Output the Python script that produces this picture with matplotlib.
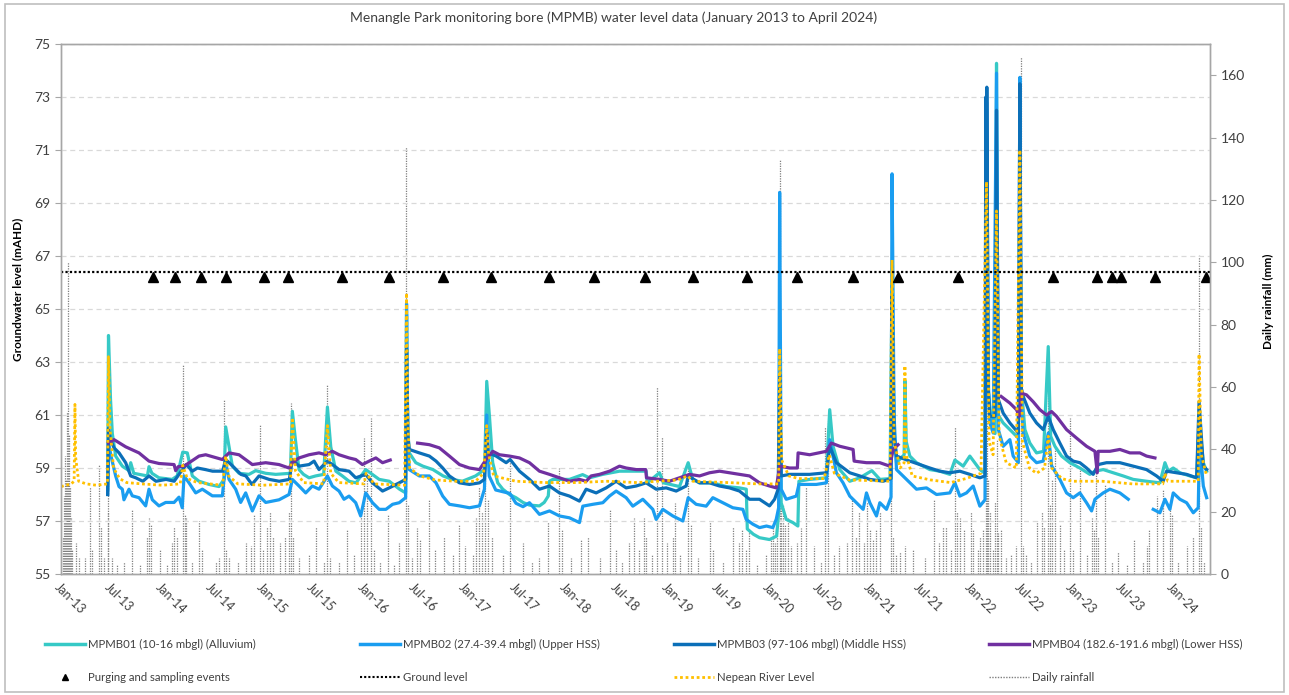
import numpy as np
import pandas as pd
import matplotlib
matplotlib.use("Agg")
import matplotlib.pyplot as plt
import matplotlib.dates as mdates
from matplotlib.lines import Line2D
from matplotlib.patches import Rectangle

plt.rcParams['font.family'] = ['Lato', 'DejaVu Sans']

# ---------------- data (time in decimal years) ----------------
title = "Menangle Park monitoring bore (MPMB) water level data (January 2013 to April 2024)"

mpmb01_t = [2013.462, 2013.470, 2013.490, 2013.508, 2013.541, 2013.607, 2013.673, 2013.690, 2013.720, 2013.772,
            2013.855, 2013.871, 2013.900, 2013.970, 2014.100, 2014.150, 2014.205, 2014.250, 2014.300, 2014.366,
            2014.465, 2014.564, 2014.614, 2014.630, 2014.663, 2014.696, 2014.762, 2014.861, 2014.927, 2015.026,
            2015.125, 2015.270, 2015.290, 2015.320, 2015.356, 2015.400, 2015.455, 2015.520, 2015.600, 2015.637,
            2015.670, 2015.720, 2015.785, 2015.851, 2015.920, 2016.016, 2016.080, 2016.149, 2016.248, 2016.350,
            2016.410, 2016.419, 2016.430, 2016.446, 2016.510, 2016.580, 2016.680, 2016.780, 2016.870, 2016.970,
            2017.100, 2017.190, 2017.211, 2017.238, 2017.270, 2017.320, 2017.370, 2017.436, 2017.500, 2017.570,
            2017.634, 2017.733, 2017.780, 2017.820, 2017.832, 2017.865, 2018.030, 2018.160, 2018.228, 2018.360,
            2018.525, 2018.624, 2018.789, 2018.800, 2018.921, 2018.960, 2019.119, 2019.205, 2019.250, 2019.317,
            2019.450, 2019.581, 2019.713, 2019.780, 2019.790, 2019.850, 2019.911, 2020.010, 2020.080, 2020.105,
            2020.112, 2020.125, 2020.175, 2020.241, 2020.290, 2020.300, 2020.406, 2020.570, 2020.604, 2020.637,
            2020.703, 2020.802, 2020.901, 2021.020, 2021.100, 2021.200, 2021.220, 2021.240, 2021.264, 2021.340,
            2021.347, 2021.360, 2021.396, 2021.462, 2021.594, 2021.693, 2021.792, 2021.842, 2021.924, 2021.990,
            2022.089, 2022.140, 2022.155, 2022.170, 2022.200, 2022.240, 2022.254, 2022.270, 2022.320, 2022.386,
            2022.470, 2022.485, 2022.500, 2022.535, 2022.584, 2022.650, 2022.720, 2022.766, 2022.790, 2022.832,
            2022.898, 2022.980, 2023.079, 2023.178, 2023.228, 2023.310, 2023.409, 2023.508, 2023.607, 2023.739,
            2023.871, 2023.921, 2023.954, 2024.003, 2024.069, 2024.168, 2024.234, 2024.258, 2024.300, 2024.333]
mpmb01_v = [58.2, 64.0, 61.6, 60.3, 59.45, 59.07, 58.9, 59.2, 58.8, 58.76,
            58.7, 59.05, 58.8, 58.63, 58.57, 58.7, 59.6, 59.57, 58.7, 58.5,
            58.38, 58.3, 58.57, 60.55, 59.8, 59.07, 58.8, 58.76, 58.9, 58.8,
            58.76, 58.8, 61.14, 60.07, 58.94, 58.76, 58.63, 58.7, 58.76, 61.3,
            59.8, 58.88, 58.7, 58.5, 58.44, 58.94, 58.76, 58.57, 58.5, 58.2,
            58.06, 64.8, 60.5, 59.57, 59.2, 59.07, 58.94, 58.7, 58.57, 58.5,
            58.7, 58.94, 62.27, 60.95, 59.2, 58.44, 58.2, 58.0, 57.88, 57.7,
            57.6, 57.57, 57.7, 57.94, 58.5, 58.57, 58.57, 58.75, 58.63, 58.76,
            58.88, 58.88, 58.88, 58.44, 58.82, 58.44, 58.3, 59.2, 58.57, 58.44,
            58.44, 58.3, 58.25, 58.2, 56.7, 56.5, 56.37, 56.3, 56.43, 57.5,
            62.0, 57.69, 57.06, 56.94, 56.81, 58.5, 58.57, 58.63, 61.2, 59.82,
            58.94, 58.5, 58.63, 58.9, 58.57, 58.6, 66.0, 60.5, 59.2, 59.5,
            62.3, 60.0, 59.45, 59.2, 58.94, 58.88, 58.76, 59.3, 59.07, 59.45,
            58.94, 58.8, 69.5, 62.0, 60.8, 60.3, 74.27, 61.0, 60.7, 60.45,
            60.13, 70.0, 62.0, 60.45, 59.94, 59.57, 59.63, 63.58, 60.2, 59.82,
            59.45, 59.2, 59.0, 58.76, 58.88, 58.94, 58.82, 58.7, 58.57, 58.5,
            58.44, 59.2, 58.88, 59.0, 58.82, 58.7, 58.63, 60.83, 59.2, 58.88]

mpmb02_t = [2013.462, 2013.470, 2013.492, 2013.541, 2013.574, 2013.607, 2013.623, 2013.673, 2013.706, 2013.772,
            2013.838, 2013.871, 2013.904, 2013.970, 2014.036, 2014.119, 2014.168, 2014.200, 2014.218, 2014.267,
            2014.333, 2014.399, 2014.498, 2014.597, 2014.630, 2014.663, 2014.729, 2014.778, 2014.828, 2014.894,
            2014.960, 2015.026, 2015.158, 2015.257, 2015.290, 2015.356, 2015.422, 2015.488, 2015.554, 2015.637,
            2015.686, 2015.752, 2015.801, 2015.851, 2015.917, 2015.966, 2016.016, 2016.083, 2016.149, 2016.215,
            2016.281, 2016.347, 2016.410, 2016.419, 2016.432, 2016.446, 2016.545, 2016.644, 2016.710, 2016.776,
            2016.842, 2016.941, 2017.040, 2017.139, 2017.188, 2017.211, 2017.235, 2017.300, 2017.440, 2017.500,
            2017.570, 2017.634, 2017.733, 2017.832, 2017.931, 2018.030, 2018.129, 2018.162, 2018.261, 2018.360,
            2018.426, 2018.492, 2018.591, 2018.657, 2018.756, 2018.855, 2018.888, 2018.954, 2019.053, 2019.152,
            2019.205, 2019.284, 2019.383, 2019.449, 2019.548, 2019.647, 2019.746, 2019.779, 2019.845, 2019.911,
            2019.980, 2020.043, 2020.076, 2020.100, 2020.110, 2020.125, 2020.175, 2020.274, 2020.300, 2020.472,
            2020.571, 2020.604, 2020.670, 2020.736, 2020.802, 2020.868, 2020.934, 2020.967, 2021.000, 2021.066,
            2021.099, 2021.165, 2021.210, 2021.220, 2021.240, 2021.264, 2021.363, 2021.462, 2021.561, 2021.660,
            2021.792, 2021.842, 2021.891, 2021.957, 2022.023, 2022.089, 2022.140, 2022.155, 2022.175, 2022.188,
            2022.221, 2022.254, 2022.272, 2022.320, 2022.386, 2022.419, 2022.470, 2022.485, 2022.500, 2022.518,
            2022.584, 2022.650, 2022.716, 2022.766, 2022.800, 2022.881, 2022.947, 2023.013, 2023.079, 2023.145,
            2023.195, 2023.228, 2023.310, 2023.376, 2023.475, 2023.558, 2023.680, 2023.805, 2023.871, 2023.921,
            2023.970, 2024.003, 2024.069, 2024.135, 2024.201, 2024.250, 2024.262, 2024.300, 2024.333]
mpmb02_v = [58.0, 60.0, 59.5, 58.7, 58.3, 58.2, 57.8, 58.2, 57.95, 57.88,
            57.57, 58.2, 57.8, 57.57, 57.7, 57.7, 57.9, 57.5, 58.7, 58.44,
            58.06, 58.2, 57.95, 57.95, 59.2, 58.57, 58.2, 57.7, 58.06, 57.38,
            57.95, 57.7, 57.8, 58.0, 58.57, 58.32, 58.06, 58.32, 58.2, 58.7,
            58.32, 58.13, 57.82, 57.94, 57.69, 57.19, 58.06, 57.69, 57.44, 57.44,
            57.63, 57.69, 57.88, 65.2, 60.0, 58.94, 58.7, 58.7, 58.44, 57.94,
            57.63, 57.57, 57.5, 57.57, 58.2, 61.0, 58.7, 58.17, 58.04, 57.67,
            57.54, 57.69, 57.25, 57.38, 57.19, 57.12, 56.94, 57.56, 57.63, 57.69,
            57.94, 58.13, 57.88, 57.56, 57.82, 57.44, 57.06, 57.44, 57.19, 57.0,
            57.88, 57.63, 57.56, 57.88, 57.69, 57.5, 57.44, 57.06, 56.88, 56.75,
            56.81, 56.75, 57.06, 57.5, 69.4, 58.2, 57.82, 57.94, 58.38, 58.38,
            58.44, 60.07, 58.82, 58.44, 57.94, 57.69, 57.44, 58.06, 57.69, 57.19,
            57.69, 57.44, 57.9, 70.1, 61.0, 58.94, 58.57, 58.2, 58.25, 58.0,
            58.06, 58.44, 57.94, 58.06, 58.32, 57.56, 57.8, 72.8, 62.0, 60.7,
            60.32, 73.9, 60.45, 59.82, 60.07, 59.45, 59.2, 73.74, 61.5, 60.32,
            59.45, 59.2, 59.26, 60.32, 59.07, 58.57, 58.06, 57.88, 58.06, 57.69,
            57.38, 57.82, 58.06, 58.2, 58.06, 57.82, np.nan, 57.44, 57.31, 57.82,
            57.44, 58.06, 57.82, 57.69, 57.31, 57.5, 60.0, 58.32, 57.88]

mpmb03_t = [2013.462, 2013.470, 2013.490, 2013.525, 2013.575, 2013.640, 2013.690, 2013.740, 2013.810, 2013.871,
            2013.940, 2014.040, 2014.120, 2014.190, 2014.240, 2014.300, 2014.350, 2014.430, 2014.500, 2014.600,
            2014.630, 2014.700, 2014.780, 2014.830, 2014.890, 2014.960, 2015.060, 2015.160, 2015.260, 2015.290,
            2015.356, 2015.455, 2015.505, 2015.554, 2015.637, 2015.686, 2015.752, 2015.851, 2015.917, 2016.016,
            2016.083, 2016.182, 2016.248, 2016.347, 2016.410, 2016.419, 2016.432, 2016.446, 2016.545, 2016.644,
            2016.710, 2016.776, 2016.842, 2016.941, 2017.040, 2017.139, 2017.188, 2017.211, 2017.225, 2017.304,
            2017.403, 2017.443, 2017.535, 2017.634, 2017.733, 2017.832, 2017.931, 2018.030, 2018.129, 2018.195,
            2018.294, 2018.393, 2018.492, 2018.591, 2018.690, 2018.789, 2018.888, 2018.987, 2019.086, 2019.185,
            2019.205, 2019.317, 2019.416, 2019.515, 2019.614, 2019.713, 2019.812, 2019.911, 2020.010, 2020.060,
            2020.095, 2020.110, 2020.125, 2020.208, 2020.406, 2020.571, 2020.604, 2020.670, 2020.802, 2020.901,
            2021.000, 2021.132, 2021.210, 2021.220, 2021.240, 2021.264, 2021.396, 2021.495, 2021.594, 2021.693,
            2021.792, 2021.891, 2021.990, 2022.089, 2022.140, 2022.148, 2022.152, 2022.158, 2022.172, 2022.188,
            2022.240, 2022.254, 2022.272, 2022.320, 2022.386, 2022.470, 2022.485, 2022.500, 2022.518, 2022.584,
            2022.650, 2022.716, 2022.766, 2022.815, 2022.881, 2022.947, 2023.013, 2023.079, 2023.145, 2023.211,
            2023.261, 2023.343, 2023.475, 2023.607, 2023.739, 2023.838, 2023.904, 2023.937, 2024.036, 2024.135,
            2024.234, 2024.258, 2024.300, 2024.333]
mpmb03_v = [58.0, 60.5, 60.07, 59.76, 59.57, 59.2, 58.7, 58.63, 58.5, 58.7,
            58.5, 58.57, 58.5, 58.88, 59.13, 58.88, 59.0, 58.94, 58.88, 58.88,
            59.32, 59.07, 58.76, 58.7, 58.38, 58.7, 58.57, 58.5, 58.57, 59.32,
            59.07, 59.13, 59.26, 58.94, 59.26, 59.13, 58.94, 58.88, 58.63, 58.76,
            58.44, 58.13, 58.25, 58.44, 58.57, 63.5, 60.2, 59.7, 59.57, 59.45,
            59.26, 59.0, 58.7, 58.44, 58.38, 58.44, 58.57, 60.3, 59.57, 59.45,
            59.2, 59.32, 58.88, 58.57, 58.2, 58.32, 58.06, 57.94, 57.75, 58.2,
            58.06, 58.25, 58.5, 58.25, 58.32, 58.44, 58.2, 58.25, 58.13, 58.32,
            58.7, 58.44, 58.44, 58.32, 58.25, 58.13, 57.82, 57.82, 57.57, 57.82,
            58.2, 62.5, 58.7, 58.76, 58.76, 58.82, 59.82, 59.2, 58.82, 58.7,
            58.57, 58.5, 58.6, 65.5, 60.2, 59.45, 59.26, 59.13, 59.0, 58.88,
            58.82, 58.88, 58.76, 58.63, 58.7, 73.0, 62.0, 73.37, 62.0, 60.95,
            60.95, 72.5, 61.58, 61.07, 60.7, 60.32, 73.5, 62.0, 61.7, 61.07,
            60.7, 60.45, 60.95, 60.45, 59.94, 59.45, 59.26, 59.2, 59.0, 58.76,
            59.13, 59.2, 59.2, 59.07, 58.94, 58.7, 58.5, 58.88, 58.82, 58.76,
            58.63, 61.5, 59.07, 58.94]

mpmb04_t = [2013.470, 2013.525, 2013.640, 2013.772, 2013.871, 2013.970, 2014.119, 2014.135, 2014.160, 2014.218,
            2014.366, 2014.432, 2014.597, 2014.663, 2014.762, 2014.894, 2015.026, 2015.158, 2015.257, 2015.290,
            2015.356, 2015.455, 2015.554, 2015.620, 2015.686, 2015.752, 2015.851, 2015.917, 2015.983, 2016.050,
            2016.116, 2016.182, 2016.258, 2016.400, 2016.528, 2016.644, 2016.743, 2016.842, 2016.941, 2017.040,
            2017.139, 2017.205, 2017.271, 2017.337, 2017.436, 2017.535, 2017.634, 2017.733, 2017.832, 2017.931,
            2018.030, 2018.129, 2018.195, 2018.244, 2018.327, 2018.426, 2018.525, 2018.591, 2018.690, 2018.785,
            2018.792, 2018.921, 2019.020, 2019.119, 2019.218, 2019.317, 2019.416, 2019.515, 2019.614, 2019.713,
            2019.812, 2019.911, 2020.010, 2020.076, 2020.112, 2020.208, 2020.285, 2020.292, 2020.406, 2020.571,
            2020.620, 2020.703, 2020.835, 2020.845, 2020.967, 2021.099, 2021.198, 2021.231, 2021.280, 2021.800,
            2022.300, 2022.386, 2022.452, 2022.480, 2022.502, 2022.551, 2022.617, 2022.683, 2022.749, 2022.799,
            2022.848, 2022.947, 2023.046, 2023.145, 2023.228, 2023.251, 2023.260, 2023.376, 2023.475, 2023.574,
            2023.673, 2023.739, 2023.822]
mpmb04_v = [59.95, 60.07, 59.8, 59.57, 59.26, 59.17, 59.13, 58.9, 59.05, 59.07,
            59.45, 59.5, 59.32, 59.57, 59.5, 59.13, 59.2, 59.13, 59.0, 59.2,
            59.38, 59.5, 59.57, 59.5, 59.63, 59.5, 59.38, 59.32, 59.13, 59.26,
            59.38, 59.2, 59.3, np.nan, 59.94, 59.88, 59.76, 59.45, 59.13, 59.0,
            58.94, 59.32, 59.63, 59.5, 59.45, 59.38, 59.2, 58.88, 58.76, 58.63,
            58.5, 58.57, 58.5, 58.7, 58.76, 58.88, 59.07, 59.0, 58.94, 58.94,
            58.63, 58.57, 58.5, 58.63, 58.76, 58.7, 58.82, 58.88, 58.82, 58.76,
            58.7, 58.44, 58.32, 58.25, 59.07, 59.0, 59.0, 59.57, 59.5, 59.63,
            59.94, 59.82, 59.7, 59.26, 59.2, 59.2, 59.07, 59.7, 59.88, np.nan,
            61.7, 61.45, 61.2, 60.95, 61.82, 61.76, 61.5, 61.2, 61.0, 61.13,
            60.95, 60.45, 60.13, 59.82, 59.63, 58.82, 59.63, 59.63, 59.7, 59.57,
            59.57, 59.45, 59.38]

nepean_t = [2013.000, 2013.050, 2013.100, 2013.130, 2013.138, 2013.145, 2013.160, 2013.175, 2013.250, 2013.350,
            2013.460, 2013.470, 2013.485, 2013.520, 2013.580, 2013.650, 2013.800, 2014.000, 2014.180, 2014.205,
            2014.250, 2014.350, 2014.600, 2014.630, 2014.660, 2014.750, 2015.000, 2015.270, 2015.290, 2015.320,
            2015.400, 2015.600, 2015.637, 2015.670, 2015.750, 2016.000, 2016.020, 2016.100, 2016.400, 2016.419,
            2016.430, 2016.450, 2016.550, 2016.700, 2016.900, 2017.100, 2017.180, 2017.211, 2017.230, 2017.280,
            2017.500, 2017.800, 2018.100, 2018.400, 2018.700, 2018.900, 2019.100, 2019.200, 2019.250, 2019.600,
            2019.900, 2020.100, 2020.110, 2020.130, 2020.200, 2020.300, 2020.550, 2020.600, 2020.650, 2020.800,
            2021.200, 2021.220, 2021.240, 2021.300, 2021.340, 2021.347, 2021.360, 2021.420, 2021.600, 2021.800,
            2021.950, 2022.100, 2022.155, 2022.180, 2022.220, 2022.254, 2022.280, 2022.350, 2022.450, 2022.485,
            2022.510, 2022.580, 2022.650, 2022.730, 2022.766, 2022.800, 2022.900, 2023.000, 2023.300, 2023.600,
            2023.900, 2023.920, 2023.950, 2024.250, 2024.258, 2024.280, 2024.333]
nepean_v = [58.3, 58.35, 58.4, 58.5, 61.4, 59.4, 58.95, 58.5, 58.4, 58.35,
            58.4, 63.2, 60.5, 59.0, 58.6, 58.45, 58.4, 58.35, 58.4, 59.1,
            58.6, 58.45, 58.35, 59.45, 58.7, 58.4, 58.35, 58.4, 60.9, 58.9,
            58.45, 58.4, 60.6, 58.8, 58.45, 58.4, 58.8, 58.4, 58.35, 65.6,
            61.0, 59.0, 58.7, 58.55, 58.5, 58.5, 58.8, 60.6, 59.5, 58.7,
            58.5, 58.45, 58.45, 58.5, 58.45, 58.5, 58.55, 58.7, 58.5, 58.45,
            58.4, 58.4, 63.5, 59.3, 58.7, 58.6, 58.6, 59.5, 58.8, 58.55,
            58.5, 66.85, 60.0, 59.0, 59.2, 62.86, 59.5, 58.7, 58.55, 58.45,
            58.6, 58.8, 69.8, 60.0, 59.5, 68.7, 60.2, 59.2, 59.0, 71.0,
            60.0, 59.0, 58.8, 59.0, 60.2, 59.0, 58.6, 58.5, 58.5, 58.4,
            58.4, 58.8, 58.5, 58.5, 63.3, 59.5, 58.7]

ground_level = 66.4
ground_t = [2013.0, 2024.366]

sampling_level = 66.2
sampling_t = [2013.914, 2014.129, 2014.386, 2014.631, 2015.013, 2015.248, 2015.785, 2016.245, 2016.782, 2017.254,
              2017.825, 2018.270, 2018.779, 2019.257, 2019.785, 2020.277, 2020.835, 2021.274, 2021.868, 2022.809,
              2023.245, 2023.393, 2023.482, 2023.819, 2024.324]

rain_t = [2013.02, 2013.03, 2013.04, 2013.05, 2013.06, 2013.07, 2013.08, 2013.09, 2013.10, 2013.11,
          2013.145, 2013.18, 2013.24, 2013.29, 2013.31, 2013.38, 2013.40, 2013.43, 2013.465, 2013.47,
          2013.50, 2013.55, 2013.62, 2013.70, 2013.78, 2013.85, 2013.87, 2013.89, 2013.98, 2014.05,
          2014.10, 2014.12, 2014.15, 2014.21, 2014.23, 2014.24, 2014.30, 2014.37, 2014.40, 2014.53,
          2014.56, 2014.61, 2014.63, 2014.66, 2014.75, 2014.83, 2014.88, 2014.91, 2014.97, 2015.00,
          2015.04, 2015.07, 2015.10, 2015.17, 2015.22, 2015.26, 2015.28, 2015.30, 2015.36, 2015.45,
          2015.52, 2015.60, 2015.63, 2015.66, 2015.75, 2015.83, 2015.90, 2015.97, 2016.00, 2016.03,
          2016.07, 2016.10, 2016.16, 2016.24, 2016.30, 2016.34, 2016.41, 2016.43, 2016.47, 2016.52,
          2016.55, 2016.64, 2016.70, 2016.79, 2016.88, 2016.94, 2017.00, 2017.08, 2017.10, 2017.13,
          2017.16, 2017.19, 2017.22, 2017.26, 2017.37, 2017.44, 2017.57, 2017.66, 2017.73, 2017.82,
          2017.93, 2017.96, 2018.05, 2018.14, 2018.21, 2018.33, 2018.43, 2018.49, 2018.55, 2018.62,
          2018.67, 2018.72, 2018.77, 2018.79, 2018.85, 2018.90, 2018.95, 2019.00, 2019.05, 2019.07,
          2019.12, 2019.20, 2019.23, 2019.30, 2019.42, 2019.45, 2019.55, 2019.65, 2019.71, 2019.74,
          2019.78, 2019.81, 2019.89, 2019.98, 2020.02, 2020.04, 2020.06, 2020.08, 2020.11, 2020.12,
          2020.14, 2020.16, 2020.19, 2020.22, 2020.28, 2020.32, 2020.37, 2020.45, 2020.52, 2020.56,
          2020.59, 2020.65, 2020.70, 2020.77, 2020.82, 2020.86, 2020.89, 2020.94, 2020.97, 2021.00,
          2021.03, 2021.06, 2021.10, 2021.21, 2021.23, 2021.26, 2021.30, 2021.35, 2021.43, 2021.55,
          2021.64, 2021.68, 2021.72, 2021.75, 2021.80, 2021.84, 2021.86, 2021.89, 2021.93, 2022.00,
          2022.02, 2022.07, 2022.09, 2022.12, 2022.15, 2022.16, 2022.17, 2022.19, 2022.22, 2022.24,
          2022.255, 2022.27, 2022.30, 2022.35, 2022.40, 2022.45, 2022.50, 2022.52, 2022.55, 2022.60,
          2022.65, 2022.70, 2022.72, 2022.765, 2022.78, 2022.80, 2022.83, 2022.88, 2022.92, 2022.98,
          2023.01, 2023.08, 2023.15, 2023.20, 2023.22, 2023.24, 2023.26, 2023.33, 2023.40, 2023.46,
          2023.55, 2023.61, 2023.70, 2023.74, 2023.76, 2023.84, 2023.90, 2023.97, 2023.99, 2024.05,
          2024.14, 2024.20, 2024.26, 2024.28, 2024.31]
rain_mm = [12, 25, 38, 30, 52, 100, 45, 28, 18, 8,
           10, 5, 5, 28, 8, 35, 15, 5, 43, 20,
           5, 3, 4, 21, 3, 12, 18, 16, 8, 3,
           10, 15, 12, 67, 19, 18, 4, 17, 8, 4,
           5, 56, 8, 5, 4, 10, 9, 19, 48, 8,
           15, 20, 12, 10, 12, 20, 55, 12, 5, 6,
           15, 4, 61, 5, 4, 14, 6, 20, 43.5, 30,
           50, 8, 4, 19, 3, 10, 137, 22, 5, 14.6,
           11, 24, 8, 12, 6, 16, 9, 6, 18, 28,
           20, 32, 24, 12, 6, 36, 10, 4, 5, 16.7,
           34, 14, 5, 11, 12, 5, 21, 8, 4, 10,
           18, 8, 18, 12, 6, 60, 44, 10, 12, 22.7,
           6, 35.5, 16, 5, 17, 8, 4, 15, 10, 14,
           8, 14, 3, 6, 12, 15, 10, 14, 133, 30,
           22, 16, 18, 9, 10, 14.6, 28, 9, 4, 47,
           49, 6, 9, 10, 24, 12, 20, 10, 23, 14,
           11, 14, 20, 90, 12, 6, 7, 9, 8, 5,
           24, 10, 15, 15, 8, 47, 20, 18, 14, 20,
           14, 8, 12, 14, 46, 110, 30, 20, 8, 23,
           43, 13, 14, 5, 6, 9, 165.8, 9, 6, 4,
           17, 20, 15, 61.6, 22, 30, 40.8, 16, 8, 50,
           8, 33.6, 6, 18, 14, 35, 12, 29, 4, 7,
           3, 11, 4, 9, 14, 25, 27, 22, 19, 4,
           9, 12, 102.6, 15, 4]

labels = ["MPMB01 (10-16 mbgl) (Alluvium)", "MPMB02 (27.4-39.4 mbgl) (Upper HSS)",
          "MPMB03 (97-106 mbgl) (Middle HSS)", "MPMB04 (182.6-191.6 mbgl) (Lower HSS)",
          "Purging and sampling events", "Ground level", "Nepean River Level", "Daily rainfall"]
colors = {"m1": "#36C9C6", "m2": "#1A9DF0", "m3": "#0B6FB8", "m4": "#7030A0",
          "nepean": "#FFC000", "rain": "#7F7F7F", "ground": "#000000"}


def to_dt(years):
    out = []
    for y in years:
        yi = int(np.floor(y))
        a = pd.Timestamp(yi, 1, 1)
        b = pd.Timestamp(yi + 1, 1, 1)
        out.append(a + (b - a) * (y - yi))
    return pd.DatetimeIndex(out)


W, H = 1289, 695
fig = plt.figure(figsize=(W / 100, H / 100), dpi=100)
ax = fig.add_axes([61 / W, 1 - 574 / H, (1210 - 61) / W, (574 - 44) / H])
ax2 = ax.twinx()
ax.set_zorder(ax2.get_zorder() + 1)
ax.patch.set_visible(False)

# rainfall (secondary axis)
ax2.vlines(to_dt(rain_t), 0, rain_mm, colors=colors["rain"], linestyles=(0, (1, 1)), lw=0.9)
ax2.set_ylim(0, 170)
ax2.set_yticks(np.arange(0, 161, 20))

# groundwater series
lw = 2.3
ax.plot(to_dt(mpmb01_t), mpmb01_v, color=colors["m1"], lw=lw, solid_joinstyle='round')
ax.plot(to_dt(mpmb02_t), mpmb02_v, color=colors["m2"], lw=lw, solid_joinstyle='round')
ax.plot(to_dt(mpmb03_t), mpmb03_v, color=colors["m3"], lw=lw, solid_joinstyle='round')
ax.plot(to_dt(mpmb04_t), mpmb04_v, color=colors["m4"], lw=lw, solid_joinstyle='round')
ax.plot(to_dt(nepean_t), nepean_v, color=colors["nepean"], lw=2.0, ls=(0, (1, 1)))
ax.plot(to_dt(ground_t), [ground_level] * len(ground_t), color=colors["ground"], lw=1.6, ls=(0, (1, 1)))
ax.plot(to_dt(sampling_t), [sampling_level] * len(sampling_t), ls='none', marker='^',
        color='black', ms=6.5)

ax.set_ylim(55, 75)
ax.set_yticks(np.arange(55, 76, 2))
ax.set_xlim(to_dt([2013.0, 2024.366]))
ax.xaxis.set_major_locator(mdates.MonthLocator(bymonth=[1, 7]))
ax.xaxis.set_major_formatter(mdates.DateFormatter('%b-%y'))
ax.grid(axis='y', color='#D9D9D9', ls=(0, (4, 3)), lw=0.9)
ax.set_axisbelow(True)

txt = '#404040'
for a in (ax, ax2):
    for s in a.spines.values():
        s.set_color('#A6A6A6')
        s.set_linewidth(1.0)
ax.tick_params(axis='y', labelsize=10, colors=txt, length=4, color='#A6A6A6')
ax2.tick_params(axis='y', labelsize=10, colors=txt, length=4, color='#A6A6A6')
ax.tick_params(axis='x', labelsize=9, colors=txt, length=0, pad=5)
for lab in ax.get_xticklabels():
    lab.set_rotation(-45)
    lab.set_ha('left')
    lab.set_va('top')
    lab.set_rotation_mode('anchor')

fig.text(614 / W, 1 - 18 / H, title, ha='center', va='center', fontsize=10, color=txt)
fig.text(18 / W, 1 - 289 / H, "Groundwater level (mAHD)", rotation=90, ha='center', va='center',
         fontsize=8.5, fontweight='bold', color='black')
fig.text(1268 / W, 1 - 301 / H, "Daily rainfall (mm)", rotation=90, ha='center', va='center',
         fontsize=8.5, fontweight='bold', color='black')

fig.add_artist(Rectangle((5 / W, 3 / H), 1279 / W, 688 / H, transform=fig.transFigure,
                         fill=False, ec='#BFBFBF', lw=1.2))

# legend: four columns, two rows
col_handles = [
    [Line2D([], [], color=colors["m1"], lw=2.5), Line2D([], [], color='black', marker='^', ls='none', ms=5)],
    [Line2D([], [], color=colors["m2"], lw=2.5), Line2D([], [], color='black', lw=1.5, ls=(0, (1, 1)))],
    [Line2D([], [], color=colors["m3"], lw=2.5), Line2D([], [], color=colors["nepean"], lw=2, ls=(0, (1, 1)))],
    [Line2D([], [], color=colors["m4"], lw=2.5), Line2D([], [], color=colors["rain"], lw=1, ls=(0, (1, 1)))],
]
col_labels = [[labels[0], labels[4]], [labels[1], labels[5]], [labels[2], labels[6]], [labels[3], labels[7]]]
col_x = [45, 360, 674, 989]
for hx, hs, ls_ in zip(col_x, col_handles, col_labels):
    leg = fig.legend(hs, ls_, loc='upper left', bbox_to_anchor=(hx / W, 1 - 639 / H),
                     frameon=False, fontsize=8.2, handlelength=3.5, handletextpad=0.3,
                     labelspacing=1.9, borderaxespad=0, borderpad=0)
    for t in leg.get_texts():
        t.set_color(txt)

fig.savefig("out.png", dpi=100)
